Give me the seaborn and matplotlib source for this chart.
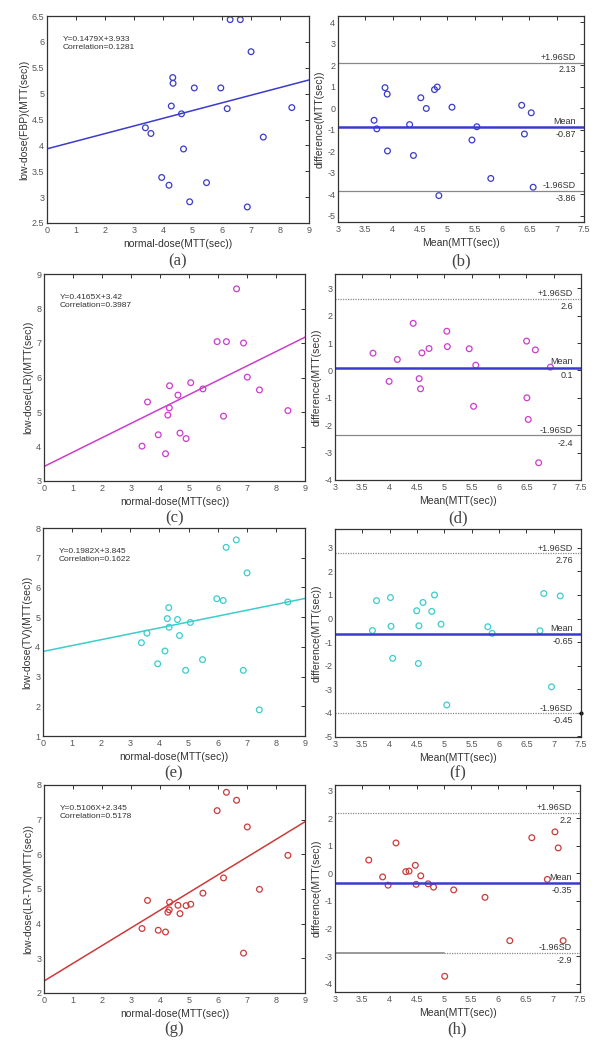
import numpy as np
import matplotlib
matplotlib.use("Agg")
import matplotlib.pyplot as plt
import seaborn as sns

# normal-dose MTT (sec), same patients in every panel
normal_dose = [3.38, 3.57, 3.94, 4.19, 4.27, 4.32, 4.33, 4.62, 4.69, 4.90,
               5.06, 5.48, 5.97, 6.19, 6.29, 6.64, 6.88, 7.01, 7.43, 8.41]

# low-dose MTT (sec) per reconstruction method
low_fbp = [4.34, 4.23, 3.38, 3.23, 4.76, 5.31, 5.20, 4.61, 3.93, 2.91,
           5.11, 3.28, 5.11, 4.71, 6.43, 6.43, 2.81, 5.81, 4.16, 4.73]
low_lr = [4.01, 5.29, 4.34, 3.79, 4.91, 5.12, 5.76, 5.49, 4.39, 4.23,
          5.85, 5.67, 7.04, 4.88, 7.04, 8.57, 7.00, 6.01, 5.64, 5.04]
low_tv = [4.14, 4.46, 3.43, 3.86, 4.95, 5.32, 4.66, 4.92, 4.38, 3.21,
          4.82, 3.57, 5.62, 5.56, 7.35, 7.60, 3.21, 6.49, 1.88, 5.51]
low_lrtv = [3.86, 4.67, 3.81, 3.76, 4.33, 4.40, 4.62, 4.53, 4.29, 4.52,
            4.56, 4.88, 7.26, 5.32, 7.79, 7.56, 3.15, 6.79, 4.99, 5.97]

methods = ["FBP", "LR", "TV", "LR-TV"]
colors = ["#3b3bcc", "#cc3dcc", "#3dcccc", "#cc3b3b"]
slopes = [0.1479, 0.4165, 0.1982, 0.5106]
intercepts = [3.933, 3.42, 3.845, 2.345]
correlations = ["0.1281", "0.3987", "0.1622", "0.5178"]
slope_txt = ["0.1479", "0.4165", "0.1982", "0.5106"]
intercept_txt = ["3.933", "3.42", "3.845", "2.345"]

# Bland-Altman limits (line positions) and their printed labels
ba_upper = [2.13, 2.62, 2.76, 2.2]
ba_mean = [-0.87, 0.1, -0.65, -0.35]
ba_lower = [-3.86, -2.37, -4.03, -2.88]
upper_txt = ["2.13", "2.6", "2.76", "2.2"]
mean_txt = ["-0.87", "0.1", "-0.65", "-0.35"]
lower_txt = ["-3.86", "-2.4", "-0.45", "-2.9"]

left_ylims = [(2.5, 6.5), (3, 9), (1, 8), (2, 8)]
left_yticks = [np.arange(2.5, 6.51, 0.5), range(3, 10), range(1, 9), range(2, 9)]
right_ylims = [(-5.3, 4.3), (-4, 3.52), (-5.03, 3.8), (-4.3, 3.2)]
right_yticks = [range(-5, 5), range(-4, 4), range(-5, 4), range(-4, 4)]
panel_tags = ["a", "b", "c", "d", "e", "f", "g", "h"]

sns.set_style("white")
plt.rcParams["font.family"] = ["Liberation Sans", "DejaVu Sans"]
plt.rcParams["axes.unicode_minus"] = False

W, H = 605, 1050
fig = plt.figure(figsize=(W / 100, H / 100), dpi=100)

# pixel boxes: left, right, top, bottom
left_boxes = [(47, 309, 16, 223), (44, 305, 274, 481), (43, 305, 528, 736), (44, 305, 785, 993)]
right_boxes = [(338, 584, 16, 222), (335, 581, 274, 480), (335, 581, 529, 737), (335, 580, 785, 992)]
tag_y = [261, 518, 773, 1029]


def make_axes(box):
    l, r, t, b = box
    return fig.add_axes([l / W, 1 - b / H, (r - l) / W, (b - t) / H])


def style_axes(ax):
    for s in ax.spines.values():
        s.set_color("#333333")
        s.set_linewidth(0.9)
    ax.tick_params(direction="in", length=3, width=0.7, colors="#333333",
                   labelsize=6.5, labelcolor="#555555", top=True, right=True, pad=2)


lines_dotted = [(False, False), (True, False), (True, True), (True, "split")]

for i in range(4):
    low = np.array([low_fbp, low_lr, low_tv, low_lrtv][i])
    nd = np.array(normal_dose)
    c = colors[i]

    # scatter + regression
    ax = make_axes(left_boxes[i])
    sns.scatterplot(x=nd, y=low, ax=ax, marker="o", s=17, facecolor="none",
                    edgecolor=c, linewidth=0.9, color=c)
    xs = np.array([0, 9])
    sns.lineplot(x=xs, y=slopes[i] * xs + intercepts[i], ax=ax, color=c, linewidth=1.1)
    ax.set_xlim(0, 9)
    ax.set_ylim(*left_ylims[i])
    ax.set_xticks(range(0, 10))
    ax.set_yticks(list(left_yticks[i]))
    ax.set_yticklabels([f"{v:g}" for v in left_yticks[i]])
    style_axes(ax)
    ax.set_xlabel("normal-dose(MTT(sec))", fontsize=7.5, color="#333333", labelpad=3)
    ax.set_ylabel(f"low-dose({methods[i]})(MTT(sec))", fontsize=7.5, color="#333333", labelpad=2)
    ax.text(0.06, 0.905, f"Y={slope_txt[i]}X+{intercept_txt[i]}\nCorrelation={correlations[i]}",
            transform=ax.transAxes, fontsize=6, va="top", ha="left", color="#333333",
            linespacing=1.25)

    # Bland-Altman
    bx = make_axes(right_boxes[i])
    mean_v = (nd + low) / 2
    diff_v = low - nd
    sns.scatterplot(x=mean_v, y=diff_v, ax=bx, marker="o", s=17, facecolor="none",
                    edgecolor=c, linewidth=0.9, color=c)
    up_dot, lo_dot = lines_dotted[i]
    bx.axhline(ba_upper[i], color="#888888", linewidth=0.9,
               linestyle=(0, (1, 1)) if up_dot else "-")
    if lo_dot == "split":
        bx.plot([3, 5], [ba_lower[i]] * 2, color="#999999", linewidth=1.4)
        bx.plot([5, 7.5], [ba_lower[i]] * 2, color="#888888", linewidth=0.9, linestyle=(0, (1, 1)))
    else:
        bx.axhline(ba_lower[i], color="#888888", linewidth=0.9,
                   linestyle=(0, (1, 1)) if lo_dot else "-")
    if i == 2:
        bx.plot([7.5], [ba_lower[i]], marker="o", markersize=2, color="#111111", clip_on=False)
    bx.axhline(ba_mean[i], color="#3a3ad0", linewidth=1.8)
    bx.set_xlim(3, 7.5)
    bx.set_ylim(*right_ylims[i])
    bx.set_xticks(np.arange(3, 7.51, 0.5))
    bx.set_xticklabels([f"{v:g}" for v in np.arange(3, 7.51, 0.5)])
    bx.set_yticks(list(right_yticks[i]))
    style_axes(bx)
    bx.set_xlabel("Mean(MTT(sec))", fontsize=7.5, color="#333333", labelpad=3)
    bx.set_ylabel("difference(MTT(sec))", fontsize=7.5, color="#333333", labelpad=2)
    tx = 7.35
    kw = dict(fontsize=6.5, ha="right", color="#333333")
    bx.text(tx, ba_upper[i] + 0.03, "+1.96SD", va="bottom", **kw)
    bx.text(tx, ba_upper[i] - 0.12, upper_txt[i], va="top", **kw)
    bx.text(tx, ba_mean[i] + 0.05, "Mean", va="bottom", **kw)
    bx.text(tx, ba_mean[i] - 0.12, mean_txt[i], va="top", **kw)
    bx.text(tx, ba_lower[i] + 0.03, "-1.96SD", va="bottom", **kw)
    bx.text(tx, ba_lower[i] - 0.12, lower_txt[i], va="top", **kw)

    # panel tags
    for box, tag in [(left_boxes[i], panel_tags[2 * i]), (right_boxes[i], panel_tags[2 * i + 1])]:
        cx = (box[0] + box[1]) / 2
        fig.text(cx / W, 1 - tag_y[i] / H, f"({tag})", fontsize=12, ha="center", va="center",
                 family=["Liberation Serif", "DejaVu Serif"], color="#444444")

plt.savefig("out.png", dpi=100)
